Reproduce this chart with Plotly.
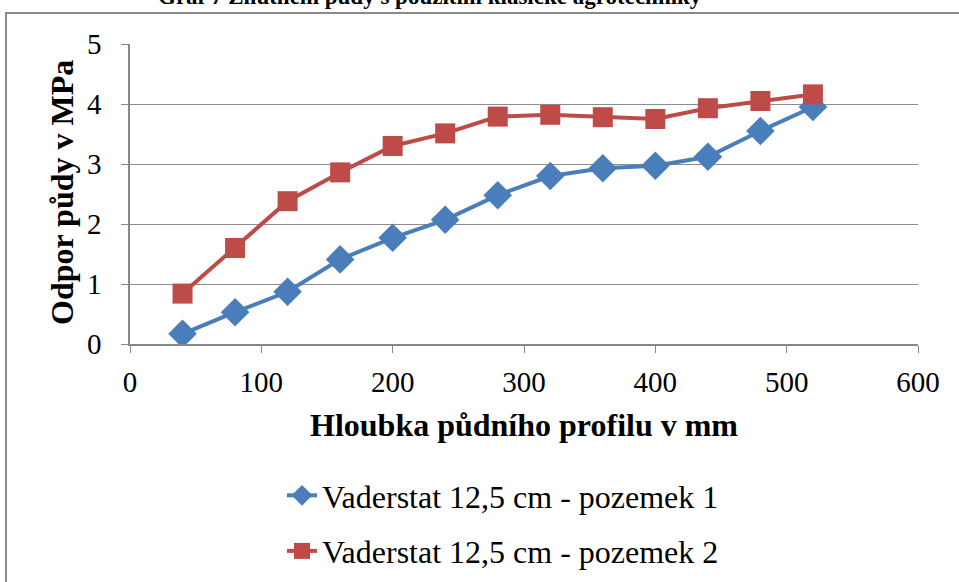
import plotly.graph_objects as go

depth = [40, 80, 120, 160, 200, 240, 280, 320, 360, 400, 440, 480, 520]
pozemek1 = [0.17, 0.53, 0.87, 1.41, 1.77, 2.07, 2.48, 2.80, 2.93, 2.97, 3.12, 3.55, 3.95]
pozemek2 = [0.84, 1.60, 2.38, 2.86, 3.30, 3.51, 3.79, 3.82, 3.78, 3.75, 3.93, 4.05, 4.16]
names = ["Vaderstat 12,5 cm - pozemek 1", "Vaderstat 12,5 cm - pozemek 2"]
title = "Graf 7 Zhutnění půdy s použitím klasické agrotechniky"
x_title = "Hloubka půdního profilu v mm"
y_title = "Odpor půdy v MPa"

W, H = 959, 582
L, R, T, B = 130, 41, 44, 238
pw, ph = W - L - R, H - T - B

def px_x(p):
    return (p - L) / pw

def px_y(p):
    return 1 - (p - T) / ph

FONT = "Liberation Serif"

fig = go.Figure()
fig.add_trace(go.Scatter(x=depth, y=pozemek1, name=names[0], mode="lines+markers",
                         legendgroup="a",
                         line=dict(color="#4a7ebb", width=4),
                         marker=dict(symbol="diamond", size=22, color="#4a7ebb")))
fig.add_trace(go.Scatter(x=depth, y=pozemek2, name=names[1], mode="lines+markers",
                         legendgroup="b",
                         line=dict(color="#be4b48", width=4),
                         marker=dict(symbol="square", size=20, color="#be4b48")))

fig.update_layout(
    width=W, height=H,
    margin=dict(l=L, r=R, t=T, b=B, autoexpand=False),
    paper_bgcolor="white", plot_bgcolor="white",
    font=dict(family=FONT, color="black", size=22),
    xaxis=dict(range=[0, 600], dtick=100, tick0=0, showgrid=False, automargin=False,
               showline=True, linecolor="#888888", linewidth=1.5,
               ticks="outside", ticklen=7, tickcolor="#888888",
               ticklabelstandoff=4,
               tickfont=dict(family=FONT, size=29, color="black"), zeroline=False),
    yaxis=dict(range=[0, 5], dtick=1, showgrid=True, gridcolor="#8c8c8c", gridwidth=1.2,
               automargin=False,
               showline=True, linecolor="#888888", linewidth=1.5,
               ticks="outside", ticklen=7, tickcolor="#888888",
               ticklabelstandoff=14,
               tickfont=dict(family=FONT, size=29, color="black"), zeroline=False),
    legend=dict(x=px_x(282), xanchor="left", y=px_y(468), yanchor="top",
                orientation="v", font=dict(family=FONT, size=32, color="black"),
                tracegroupgap=11, traceorder="grouped", bgcolor="rgba(0,0,0,0)"),
    showlegend=True,
)

fig.add_shape(type="rect", xref="paper", yref="paper",
              x0=px_x(6), x1=px_x(990), y0=px_y(620), y1=px_y(13),
              line=dict(color="#8a8a8a", width=2), fillcolor="rgba(0,0,0,0)", layer="below")

fig.add_annotation(text="<b>" + title + "</b>", xref="paper", yref="paper",
                   x=px_x(430), y=px_y(11), xanchor="center", yanchor="bottom",
                   showarrow=False, font=dict(family=FONT, size=23, color="black"))
fig.add_annotation(text="<b>" + x_title + "</b>", xref="paper", yref="paper",
                   x=px_x(524), y=px_y(425), xanchor="center", yanchor="middle",
                   showarrow=False, font=dict(family=FONT, size=32, color="black"))
fig.add_annotation(text="<b>" + y_title + "</b>", xref="paper", yref="paper",
                   x=px_x(62), y=px_y(193), xanchor="center", yanchor="middle",
                   textangle=-90,
                   showarrow=False, font=dict(family=FONT, size=32, color="black"))

fig.write_html("out.html")
